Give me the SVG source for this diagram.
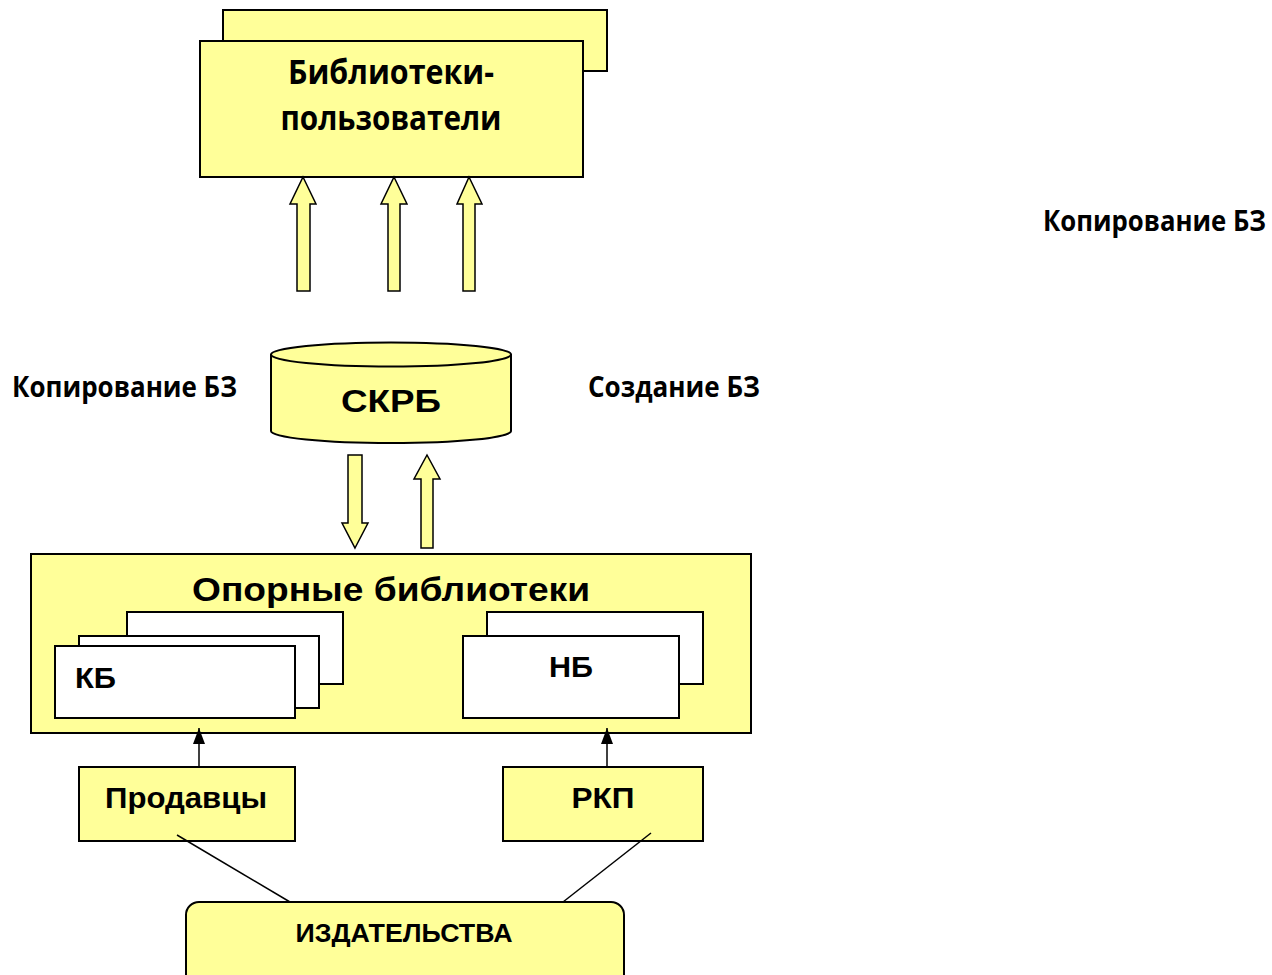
<svg xmlns="http://www.w3.org/2000/svg" width="1272" height="975" viewBox="0 0 1272 975">
<style>
.y{fill:#FFFF99;stroke:#000;stroke-width:2}
.w{fill:#fff;stroke:#000;stroke-width:2}
.ba{fill:#FFFF99;stroke:#000;stroke-width:1.5;stroke-linejoin:miter}
.ar{font-family:"Liberation Sans",Arial,sans-serif;font-weight:bold;fill:#000}
.ca{font-family:"Open Sans","Noto Sans",sans-serif;font-weight:bold;fill:#000}
.ln{stroke:#000;stroke-width:1.5;fill:none}
</style>
<defs>
<marker id="ah" viewBox="0 0 16 12" refX="16" refY="6" markerWidth="16" markerHeight="12" markerUnits="userSpaceOnUse" orient="auto">
<path d="M0,0 L16,6 L0,12 z" fill="#000"/>
</marker>
</defs>
<rect width="1272" height="975" fill="#fff"/>

<g id="users">
<rect class="y" x="223" y="10" width="384" height="61"/>
<rect class="y" x="200" y="41" width="383" height="136"/>
<text class="ca" x="391" y="84" font-size="34" text-anchor="middle" textLength="206" lengthAdjust="spacingAndGlyphs">Библиотеки-</text>
<text class="ca" x="391" y="130" font-size="34" text-anchor="middle" textLength="221" lengthAdjust="spacingAndGlyphs">пользователи</text>
</g>

<g id="skrb">
<path class="y" d="M271,354 L271,431 A120,12 0 0 0 511,431 L511,354"/>
<ellipse class="y" cx="391" cy="354.5" rx="120" ry="12"/>
<text class="ar" x="391" y="412" font-size="32" text-anchor="middle" textLength="100" lengthAdjust="spacingAndGlyphs">СКРБ</text>
</g>

<g id="opor">
<rect class="y" x="31" y="554" width="720" height="179"/>
<text class="ar" x="391" y="601" font-size="33" text-anchor="middle" textLength="398" lengthAdjust="spacingAndGlyphs">Опорные библиотеки</text>
</g>

<g id="kb">
<rect class="w" x="127" y="612" width="216" height="72"/>
<rect class="w" x="79" y="636" width="240" height="72"/>
<rect class="w" x="55" y="646" width="240" height="72"/>
<text class="ar" x="75" y="688" font-size="30" textLength="41" lengthAdjust="spacingAndGlyphs">КБ</text>
</g>

<g id="nb">
<rect class="w" x="487" y="612" width="216" height="72"/>
<rect class="w" x="463" y="636" width="216" height="82"/>
<text class="ar" x="571" y="677" font-size="30" text-anchor="middle" textLength="44" lengthAdjust="spacingAndGlyphs">НБ</text>
</g>

<g id="prod">
<rect class="y" x="79" y="767" width="216" height="74"/>
<text class="ar" x="186" y="808" font-size="30" text-anchor="middle" textLength="162" lengthAdjust="spacingAndGlyphs">Продавцы</text>
</g>

<g id="rkp">
<rect class="y" x="503" y="767" width="200" height="74"/>
<text class="ar" x="603" y="808" font-size="30" text-anchor="middle" textLength="63" lengthAdjust="spacingAndGlyphs">РКП</text>
</g>

<g id="izd">
<rect class="y" x="186" y="902" width="438" height="90" rx="13" ry="13"/>
<text class="ar" x="404" y="942" font-size="26" text-anchor="middle" textLength="217" lengthAdjust="spacingAndGlyphs">ИЗДАТЕЛЬСТВА</text>
</g>

<g id="labels">
<text class="ca" x="12" y="397" font-size="28" textLength="225" lengthAdjust="spacingAndGlyphs">Копирование БЗ</text>
<text class="ca" x="588" y="397" font-size="28" textLength="172" lengthAdjust="spacingAndGlyphs">Создание БЗ</text>
<text class="ca" x="1266" y="231" font-size="28" text-anchor="end" textLength="223" lengthAdjust="spacingAndGlyphs">Копирование БЗ</text>
</g>

<g id="connectors">
<path class="ba" d="M303,177 L316,204 L310,204 L310,291 L297,291 L297,204 L290,204 Z"/>
<path class="ba" d="M394,177 L407,204 L400,204 L400,291 L388,291 L388,204 L381,204 Z"/>
<path class="ba" d="M469,177 L482,204 L475,204 L475,291 L463,291 L463,204 L457,204 Z"/>
<path class="ba" d="M355,548 L368,523 L362,523 L362,455 L348,455 L348,523 L342,523 Z"/>
<path class="ba" d="M427,455 L440,479 L433,479 L433,548 L421,548 L421,479 L414,479 Z"/>
<line class="ln" x1="199" y1="767" x2="199" y2="728" marker-end="url(#ah)"/>
<line class="ln" x1="607" y1="767" x2="607" y2="728" marker-end="url(#ah)"/>
<line class="ln" x1="177" y1="835" x2="290" y2="902"/>
<line class="ln" x1="651" y1="833" x2="563" y2="902"/>
</g>
</svg>
